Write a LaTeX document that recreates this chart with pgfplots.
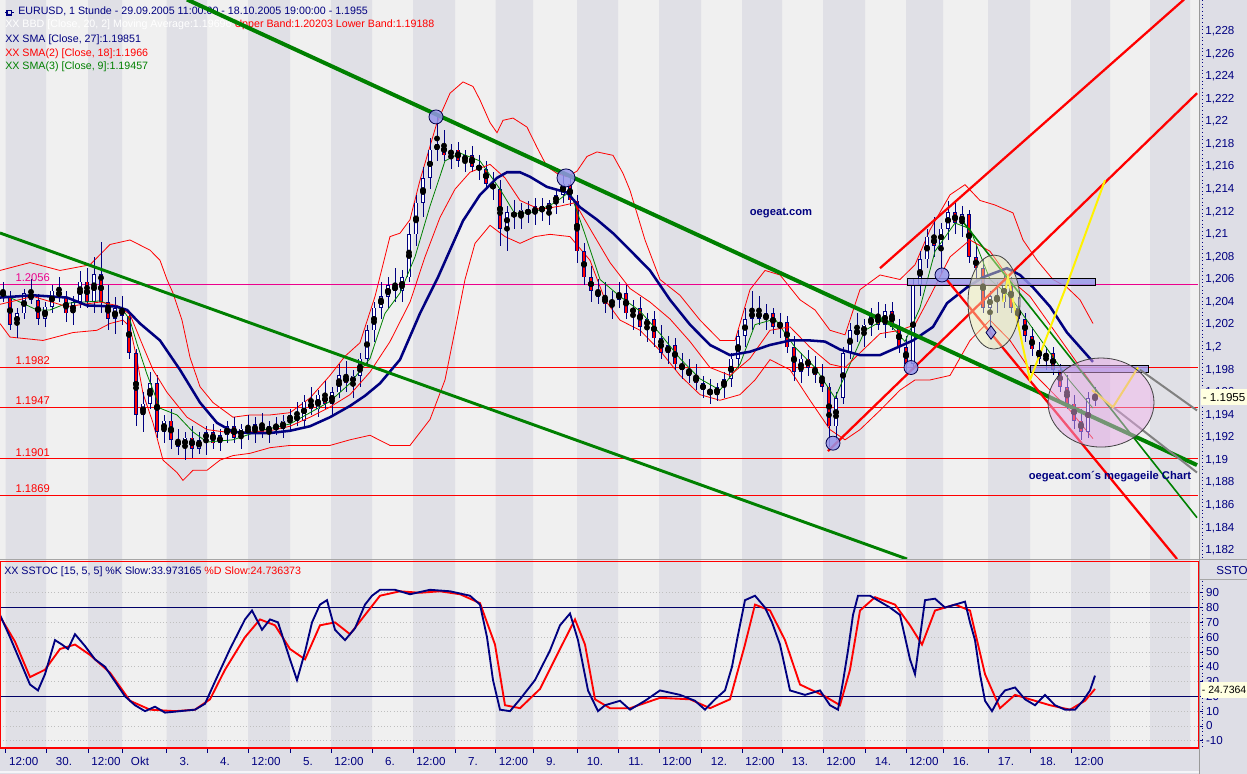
\documentclass[border=0pt]{standalone}
\usepackage{fontspec}
\setmainfont{Liberation Sans}
\usepackage{pgfplots}
\pgfplotsset{compat=1.18}
\usepackage{pgfplotstable}
\usepgfplotslibrary{fillbetween}

\definecolor{navy}{RGB}{0,0,128}
\definecolor{stripeD}{RGB}{224,224,230}
\definecolor{stripeL}{RGB}{240,240,240}
\definecolor{panelbg}{RGB}{222,222,230}
\definecolor{chgreen}{RGB}{0,128,0}
\definecolor{bandfill}{RGB}{252,252,242}
\definecolor{circblue}{RGB}{150,150,235}
\definecolor{tipbg}{RGB}{255,255,225}
\definecolor{yelell}{RGB}{240,240,180}
\definecolor{pinkell}{RGB}{230,170,230}

% hourly EURUSD, sampled every 2 bars: x (px position), open, high, low, close
\pgfplotstableread{
x o h l c
3 1.2050 1.2058 1.2040 1.2045
10 1.2045 1.2050 1.2015 1.2020
17 1.2020 1.2035 1.2008 1.2030
24 1.2030 1.2052 1.2025 1.2048
31 1.2048 1.2060 1.2038 1.2042
38 1.2042 1.2047 1.2020 1.2025
45 1.2025 1.2040 1.2018 1.2036
52 1.2036 1.2055 1.2030 1.2050
59 1.2050 1.2062 1.2040 1.2045
66 1.2045 1.2050 1.2022 1.2030
73 1.2030 1.2045 1.2020 1.2040
80 1.2040 1.2068 1.2035 1.2058
87 1.2058 1.2070 1.2035 1.2040
94 1.2040 1.2080 1.2030 1.2065
101 1.2065 1.2093 1.2030 1.2040
108 1.2040 1.2055 1.2015 1.2025
115 1.2025 1.2045 1.2012 1.2035
122 1.2035 1.2045 1.2020 1.2028
129 1.2028 1.2032 1.1990 1.1995
136 1.1995 1.1998 1.1930 1.1940
143 1.1940 1.1960 1.1925 1.1950
150 1.1950 1.1978 1.1945 1.1968
157 1.1968 1.1975 1.1920 1.1925
164 1.1925 1.1940 1.1915 1.1935
171 1.1935 1.1945 1.1910 1.1918
178 1.1918 1.1928 1.1905 1.1912
185 1.1912 1.1925 1.1900 1.1920
192 1.1920 1.1930 1.1902 1.1910
199 1.1910 1.1925 1.1905 1.1918
206 1.1918 1.1930 1.1905 1.1925
213 1.1925 1.1932 1.1910 1.1915
220 1.1915 1.1928 1.1908 1.1922
227 1.1922 1.1935 1.1915 1.1930
234 1.1930 1.1938 1.1915 1.1920
241 1.1920 1.1932 1.1910 1.1928
248 1.1928 1.1940 1.1918 1.1925
255 1.1925 1.1938 1.1915 1.1932
262 1.1932 1.1942 1.1920 1.1925
269 1.1925 1.1935 1.1915 1.1930
276 1.1930 1.1938 1.1922 1.1928
283 1.1928 1.1940 1.1920 1.1935
290 1.1935 1.1945 1.1925 1.1940
297 1.1940 1.1952 1.1930 1.1935
304 1.1935 1.1958 1.1930 1.1952
311 1.1952 1.1965 1.1940 1.1945
318 1.1945 1.1962 1.1938 1.1958
325 1.1958 1.1970 1.1945 1.1950
332 1.1950 1.1965 1.1940 1.1960
339 1.1960 1.1985 1.1955 1.1975
346 1.1975 1.1988 1.1960 1.1968
353 1.1968 1.1980 1.1955 1.1975
360 1.1975 1.1995 1.1965 1.1990
367 1.1990 1.2020 1.1985 1.2015
374 1.2015 1.2040 1.2005 1.2035
381 1.2035 1.2058 1.2025 1.2045
388 1.2045 1.2062 1.2035 1.2055
395 1.2055 1.2070 1.2040 1.2050
402 1.2050 1.2068 1.2040 1.2062
409 1.2062 1.2110 1.2058 1.2100
416 1.2100 1.2135 1.2090 1.2128
423 1.2128 1.2160 1.2115 1.2150
430 1.2150 1.2185 1.2140 1.2175
437 1.2175 1.2205 1.2165 1.2180
444 1.2180 1.2192 1.2165 1.2170
451 1.2170 1.2180 1.2158 1.2175
458 1.2175 1.2182 1.2160 1.2165
465 1.2165 1.2175 1.2155 1.2170
472 1.2170 1.2178 1.2155 1.2160
479 1.2160 1.2170 1.2148 1.2158
486 1.2158 1.2165 1.2140 1.2145
493 1.2145 1.2155 1.2130 1.2140
500 1.2140 1.2148 1.2090 1.2105
507 1.2105 1.2125 1.2085 1.2120
514 1.2120 1.2130 1.2105 1.2115
521 1.2115 1.2128 1.2105 1.2122
528 1.2122 1.2130 1.2110 1.2118
535 1.2118 1.2132 1.2108 1.2125
542 1.2125 1.2132 1.2112 1.2120
549 1.2120 1.2130 1.2108 1.2128
556 1.2128 1.2140 1.2118 1.2135
563 1.2135 1.2155 1.2128 1.2145
570 1.2145 1.2152 1.2125 1.2130
577 1.2130 1.2135 1.2075 1.2085
584 1.2085 1.2092 1.2055 1.2062
591 1.2062 1.2072 1.2040 1.2050
598 1.2050 1.2060 1.2038 1.2045
605 1.2045 1.2058 1.2030 1.2038
612 1.2038 1.2050 1.2025 1.2042
619 1.2042 1.2058 1.2035 1.2048
626 1.2048 1.2055 1.2025 1.2030
633 1.2030 1.2042 1.2015 1.2035
640 1.2035 1.2045 1.2010 1.2018
647 1.2018 1.2030 1.2005 1.2025
654 1.2025 1.2032 1.2000 1.2008
661 1.2008 1.2020 1.1990 1.1995
668 1.1995 1.2010 1.1985 1.2002
675 1.2002 1.2008 1.1980 1.1985
682 1.1985 1.1995 1.1972 1.1980
689 1.1980 1.1990 1.1968 1.1975
696 1.1975 1.1985 1.1962 1.1968
703 1.1968 1.1975 1.1955 1.1962
710 1.1962 1.1972 1.1950 1.1958
717 1.1958 1.1968 1.1952 1.1965
724 1.1965 1.1978 1.1955 1.1972
731 1.1972 1.1995 1.1965 1.1990
738 1.1990 1.2015 1.1982 1.2010
745 1.2010 1.2035 1.2000 1.2025
752 1.2025 1.2050 1.2015 1.2032
759 1.2032 1.2045 1.2020 1.2025
766 1.2025 1.2038 1.2015 1.2030
773 1.2030 1.2035 1.2012 1.2018
780 1.2018 1.2030 1.2008 1.2022
787 1.2022 1.2028 1.1995 1.2000
794 1.2000 1.2010 1.1970 1.1978
801 1.1978 1.1995 1.1968 1.1990
808 1.1990 1.1998 1.1975 1.1982
815 1.1982 1.1992 1.1968 1.1975
822 1.1975 1.1985 1.1960 1.1965
829 1.1965 1.1968 1.1912 1.1930
836 1.1930 1.1960 1.1918 1.1955
843 1.1955 1.2000 1.1950 1.1995
850 1.1995 1.2022 1.1990 1.2015
857 1.2015 1.2030 1.2005 1.2012
864 1.2012 1.2025 1.2000 1.2020
871 1.2020 1.2035 1.2010 1.2028
878 1.2028 1.2040 1.2015 1.2020
885 1.2020 1.2038 1.2008 1.2032
892 1.2032 1.2040 1.2015 1.2018
899 1.2018 1.2025 1.1995 1.2000
906 1.2000 1.2010 1.1978 1.1985
913 1.1985 1.2060 1.1980 1.2055
920 1.2055 1.2085 1.2045 1.2078
927 1.2078 1.2105 1.2070 1.2098
934 1.2098 1.2115 1.2080 1.2090
941 1.2090 1.2110 1.2065 1.2105
948 1.2105 1.2130 1.2095 1.2120
955 1.2120 1.2128 1.2100 1.2110
962 1.2110 1.2125 1.2098 1.2118
969 1.2118 1.2122 1.2075 1.2080
976 1.2080 1.2090 1.2060 1.2070
983 1.2070 1.2078 1.2030 1.2035
990 1.2035 1.2050 1.2012 1.2045
997 1.2045 1.2058 1.2030 1.2040
1004 1.2040 1.2065 1.2035 1.2060
1011 1.2060 1.2062 1.2030 1.2035
1018 1.2035 1.2045 1.2018 1.2025
1025 1.2025 1.2030 1.2005 1.2010
1032 1.2010 1.2018 1.1992 1.1998
1039 1.1998 1.2005 1.1985 1.1990
1046 1.1990 1.2000 1.1980 1.1995
1053 1.1995 1.2000 1.1975 1.1980
1060 1.1980 1.1985 1.1960 1.1965
1067 1.1965 1.1975 1.1945 1.1950
1074 1.1950 1.1958 1.1928 1.1935
1081 1.1935 1.1945 1.1918 1.1925
1088 1.1925 1.1960 1.1920 1.1955
1095 1.1955 1.1965 1.1948 1.1955
}\candles

% SMA 27 (navy)
\pgfplotstableread{
x p
0 1.2044
33 1.2046
67 1.2044
87 1.2037
117 1.2036
127 1.2033
140 1.2021
160 1.2006
180 1.1980
200 1.1951
217 1.1933
233 1.1925
250 1.1924
270 1.1924
290 1.1926
310 1.1930
330 1.1938
350 1.1948
365 1.1957
380 1.1968
400 1.1989
420 1.2030
438 1.2062
447 1.2080
463 1.2112
480 1.2135
497 1.2150
507 1.2155
520 1.2155
530 1.2151
547 1.2142
567 1.2137
580 1.2124
597 1.2113
613 1.2101
630 1.2086
650 1.2068
670 1.2042
690 1.2020
710 1.2002
730 1.1993
750 1.1996
770 1.2002
790 1.2006
810 1.2006
825 1.2005
840 1.1998
860 1.1993
880 1.1993
913 1.2006
933 1.2018
947 1.2039
967 1.2053
983 1.2062
1007 1.2070
1020 1.2064
1033 1.2053
1050 1.2036
1067 1.2013
1093 1.1987
}\smaA

% SMA 18 (red)
\pgfplotstableread{
x p
0 1.2038
33 1.2045
67 1.2036
100 1.2040
117 1.2037
130 1.2029
143 1.2001
153 1.1980
167 1.1960
187 1.1938
207 1.1927
233 1.1924
250 1.1925
270 1.1926
290 1.1930
310 1.1938
330 1.1947
350 1.1958
370 1.1978
390 1.2005
410 1.2040
425 1.2080
440 1.2115
455 1.2140
470 1.2155
490 1.2162
505 1.2150
520 1.2130
540 1.2122
560 1.2125
575 1.2128
590 1.2105
610 1.2075
630 1.2052
650 1.2040
670 1.2025
690 1.2005
710 1.1982
730 1.1975
750 1.1990
770 1.2015
790 1.2018
810 1.2000
830 1.1985
845 1.1982
860 1.1995
880 1.2012
900 1.2015
915 1.2020
930 1.2045
950 1.2080
970 1.2095
990 1.2085
1010 1.2060
1030 1.2045
1050 1.2020
1070 1.1995
1093 1.1966
}\smaB

% SMA 9 (green)
\pgfplotstableread{
x p
0 1.2048
20 1.2040
37 1.2033
50 1.2033
67 1.2039
100 1.2041
123 1.2033
130 1.2024
137 1.2003
147 1.1976
160 1.1946
177 1.1940
193 1.1925
207 1.1916
233 1.1918
260 1.1926
290 1.1932
310 1.1942
330 1.1952
350 1.1968
370 1.1990
385 1.2030
400 1.2048
415 1.2080
430 1.2125
445 1.2165
460 1.2172
480 1.2165
500 1.2140
515 1.2118
535 1.2120
555 1.2128
570 1.2138
585 1.2100
600 1.2060
620 1.2045
640 1.2032
660 1.2012
680 1.1990
700 1.1972
720 1.1962
740 1.1985
755 1.2020
775 1.2025
795 1.2000
815 1.1982
835 1.1955
850 1.1985
865 1.2015
885 1.2025
905 1.2005
920 1.2035
935 1.2085
955 1.2110
970 1.2105
990 1.2060
1010 1.2045
1030 1.2020
1050 1.1995
1070 1.1970
1093 1.1946
}\smaC

% Bollinger upper band
\pgfplotstableread{
x p
0 1.2068
30 1.2075
60 1.2068
90 1.2073
110 1.2091
130 1.2095
150 1.2086
160 1.2077
167 1.2060
173 1.2048
182 1.2024
190 1.1991
200 1.1965
213 1.1951
233 1.1938
250 1.1940
270 1.1940
290 1.1942
310 1.1955
330 1.1975
345 1.1992
360 1.2004
375 1.2045
390 1.2098
400 1.2101
410 1.2113
420 1.2148
437 1.2199
450 1.2225
463 1.2235
473 1.2231
480 1.2219
490 1.2199
497 1.2190
503 1.2201
513 1.2203
527 1.2195
537 1.2177
547 1.2160
557 1.2154
567 1.2151
577 1.2156
587 1.2169
597 1.2173
613 1.2170
623 1.2154
630 1.2139
645 1.2095
660 1.2060
680 1.2046
700 1.2024
720 1.2006
735 1.2006
750 1.2051
765 1.2068
780 1.2064
800 1.2042
815 1.2033
830 1.2015
845 1.2011
860 1.2051
880 1.2064
900 1.2060
915 1.2073
930 1.2104
950 1.2135
965 1.2144
980 1.2130
995 1.2126
1013 1.2119
1023 1.2095
1037 1.2077
1053 1.2060
1067 1.2053
1080 1.2042
1093 1.2021
}\bandU

% Bollinger lower band
\pgfplotstableread{
x p
0 1.2021
10 1.2009
43 1.2006
73 1.2013
97 1.2015
110 1.2021
123 1.2024
130 1.2018
137 1.1989
143 1.1959
153 1.1933
163 1.1900
177 1.1889
183 1.1882
193 1.1891
207 1.1891
220 1.1900
233 1.1904
250 1.1906
270 1.1911
290 1.1913
310 1.1913
330 1.1913
350 1.1918
370 1.1922
390 1.1913
410 1.1913
430 1.1936
445 1.1971
455 1.2015
465 1.2060
475 1.2092
490 1.2108
505 1.2098
520 1.2092
535 1.2098
550 1.2100
570 1.2098
590 1.2077
605 1.2042
620 1.2024
640 1.2015
660 1.1997
680 1.1975
700 1.1958
720 1.1953
740 1.1958
755 1.1971
770 1.1989
790 1.1980
810 1.1953
830 1.1927
845 1.1918
860 1.1927
880 1.1944
900 1.1962
915 1.1971
930 1.1971
950 1.1975
970 1.2006
990 1.2024
1010 1.2006
1030 1.1980
1050 1.1962
1070 1.1944
1093 1.1919
}\bandL

% Slow stochastic %K
\pgfplotstableread{
x v
0 75
10 60
20 44
30 28
38 24
45 35
55 58
62 55
68 52
75 62
85 54
95 45
105 40
115 30
125 20
135 14
145 10
155 13
165 9
180 10
195 11
205 15
215 30
230 52
245 72
252 78
262 65
270 72
278 70
290 45
297 31
305 50
312 70
320 82
327 85
335 65
345 58
355 66
365 82
372 88
380 92
395 92
410 89
430 92
450 91
470 88
480 82
487 60
493 31
500 11
510 10
520 18
535 31
550 51
560 68
570 76
578 58
588 24
598 10
605 14
620 17
630 11
645 17
660 24
680 21
695 17
705 11
715 18
725 24
732 40
737 58
745 85
755 88
765 80
772 70
780 55
790 24
805 21
820 24
830 14
838 11
843 30
848 51
853 75
858 88
870 88
880 84
890 80
900 75
905 60
910 45
915 35
920 60
925 85
935 86
945 80
955 82
965 84
970 70
975 58
980 35
985 17
992 10
1000 20
1005 24
1015 26
1025 18
1035 14
1045 21
1055 14
1065 11
1075 11
1083 17
1090 24
1095 34
}\stochK

% Slow stochastic %D
\pgfplotstableread{
x v
0 74
15 57
30 33
45 38
60 52
75 55
90 48
110 36
130 17
150 11
175 10
195 11
210 18
225 38
245 60
260 72
275 68
290 52
305 45
320 68
335 70
350 62
365 75
380 88
400 91
420 90
440 91
460 89
480 83
495 55
505 14
520 12
540 25
560 52
575 72
585 55
595 18
610 12
630 12
660 19
690 18
710 12
730 18
745 55
755 82
770 78
785 58
800 28
825 20
840 14
850 38
860 78
875 87
895 82
910 68
922 55
935 78
955 82
970 78
985 35
1000 12
1015 21
1030 18
1050 14
1070 11
1085 17
1095 25
}\stochD

\begin{document}
\begin{tikzpicture}[font=\fontsize{8}{9.6}\selectfont]
\begin{scope}[x=0.75pt,y=0.75pt]
\fill[panelbg] (0,0) rectangle (1247,774);
\fill[stripeL] (0,26) rectangle (1198.5,774);
\end{scope}

% day/half-day stripes
\begin{axis}[at={(0pt,580.5pt)}, anchor=north west, scale only axis,
  width=898.5pt, height=561pt, xmin=0, xmax=1198, ymin=0, ymax=1, hide axis]
\addplot[ybar interval, fill=stripeD, draw=none] coordinates {
 (5.7,1)(46,0)(88,1)(122,0)(166.5,1)(207,0)(248,1)(290,0)(331,1)(372,0)
 (413,1)(455,0)(495.5,1)(533,0)(577,1)(618,0)(659,1)(701,0)(742,1)(782,0)
 (823,1)(865,0)(906,1)(943,0)(988,1)(1030,0)(1071,1)(1110,0)(1150,1)(1190,0)(1198,0)};
\end{axis}

% header
\begin{scope}[x=0.75pt,y=0.75pt]
\draw[navy, line width=0.8pt] (7,759) rectangle (11.5,763.5);
\draw[navy, line width=0.8pt] (5,761.2) -- (7,761.2) (11.5,761.2) -- (13.5,761.2);
\node[anchor=base west, inner sep=0pt, text=navy] at (18,759) {EURUSD, 1 Stunde - 29.09.2005 11:00:00 - 18.10.2005 19:00:00 - 1.1955};
\node[anchor=base west, inner sep=0pt] at (5,746) {\textcolor{white}{XX BBD [Close, 20, 2] Moving Average:1.19696} \textcolor{red}{Upper Band:1.20203 Lower Band:1.19188}};
\node[anchor=base west, inner sep=0pt, text=navy] at (5,731) {XX SMA [Close, 27]:1.19851};
\node[anchor=base west, inner sep=0pt, text=red] at (5,717.3) {XX SMA(2) [Close, 18]:1.1966};
\node[anchor=base west, inner sep=0pt, text=chgreen] at (5,704.3) {XX SMA(3) [Close, 9]:1.19457};
\node[anchor=base west, inner sep=0pt] at (4,199) {\textcolor{navy}{XX SSTOC [15, 5, 5] \%K Slow:33.973165} \textcolor{red}{\%D Slow:24.736373}};
\end{scope}

% price panel
\begin{axis}[at={(0pt,580.5pt)}, anchor=north west, scale only axis,
  width=898.5pt, height=419.25pt,
  xmin=0, xmax=1198, ymin=1.18124, ymax=1.23076,
  axis x line=none, axis y line*=right, y axis line style={draw=none},
  xtick=\empty,
  ytick={1.182,1.184,1.186,1.188,1.19,1.192,1.194,1.196,1.198,1.2,1.202,1.204,1.206,1.208,1.21,1.212,1.214,1.216,1.218,1.22,1.222,1.224,1.226,1.228},
  tick align=outside, major tick length=3pt,
  y tick style={navy, line width=0.6pt},
  ymajorgrids, grid style={dotted, line width=0.6pt, color=black!25},
  yticklabel style={text=navy, font=\fontsize{8.7}{10}\selectfont, xshift=-1pt},
  /pgf/number format/fixed, /pgf/number format/precision=3,
  /pgf/number format/use comma, /pgf/number format/assume math mode=true]

\addplot[draw=none, name path=ub, forget plot] table[x=x,y=p] \bandU;
\addplot[draw=none, name path=lb, forget plot] table[x=x,y=p] \bandL;
\addplot[fill=bandfill, fill opacity=0.75, draw=none] fill between[of=ub and lb];
\addplot[red, line width=0.6pt] table[x=x,y=p] \bandU;
\addplot[red, line width=0.6pt] table[x=x,y=p] \bandL;

% support / resistance levels
\addplot[magenta, line width=0.75pt] coordinates {(0,1.2056)(1198,1.2056)};
\addplot[red, line width=0.75pt] coordinates {(0,1.1982)(1198,1.1982)};
\addplot[red, line width=0.75pt] coordinates {(0,1.1947)(1198,1.1947)};
\addplot[red, line width=0.75pt] coordinates {(0,1.1901)(1198,1.1901)};
\addplot[red, line width=0.75pt] coordinates {(0,1.1869)(1198,1.1869)};

% candles: wicks, bodies, red fill for falling bars
\addplot[only marks, mark=none, error bars/.cd, y dir=both, y explicit, error mark=none,
  error bar style={solid, navy, line width=0.75pt}]
  table[x=x, y expr={(\thisrow{h}+\thisrow{l})/2}, y error expr={(\thisrow{h}-\thisrow{l})/2}] \candles;
\addplot[only marks, mark=none, error bars/.cd, y dir=both, y explicit, error mark=none,
  error bar style={solid, navy, line width=2.8pt, line cap=butt}]
  table[x=x, y expr={(\thisrow{o}+\thisrow{c})/2}, y error expr={abs(\thisrow{o}-\thisrow{c})/2}] \candles;
\addplot[only marks, mark=none, error bars/.cd, y dir=both, y explicit, error mark=none,
  error bar style={solid, white, line width=1.4pt, line cap=butt}]
  table[x=x, y expr={(\thisrow{o}+\thisrow{c})/2}, y error expr={abs(\thisrow{o}-\thisrow{c})/2-0.00006}] \candles;
\addplot[only marks, mark=none, restrict expr to domain={\thisrow{o}-\thisrow{c}}{0.00001:1},
  error bars/.cd, y dir=both, y explicit, error mark=none,
  error bar style={solid, red, line width=1.4pt, line cap=butt}]
  table[x=x, y expr={(\thisrow{o}+\thisrow{c})/2}, y error expr={abs(\thisrow{o}-\thisrow{c})/2-0.00006}] \candles;

% moving averages
\addplot[chgreen, line width=0.6pt] table[x=x,y=p] \smaC;
\addplot[red, line width=0.6pt] table[x=x,y=p] \smaB;
\addplot[navy, line width=1.9pt] table[x=x,y=p] \smaA;

% drawn objects
\addplot[only marks, mark=*, mark size=35.25pt,
  mark options={xscale=0.553, fill=yelell, fill opacity=0.45, draw=black!75, line width=0.6pt}]
  coordinates {(994,1.2040)};
\addplot[only marks, mark=*, mark size=33.4pt,
  mark options={xscale=1.19, fill=pinkell, fill opacity=0.5, draw=black!75, line width=0.6pt}]
  coordinates {(1101,1.1951)};
\addplot[fill=circblue, fill opacity=0.8, draw=black, line width=0.6pt]
  coordinates {(907,1.2061)(1095,1.2061)(1095,1.2055)(907,1.2055)} -- cycle;
\addplot[fill=circblue, fill opacity=0.8, draw=black, line width=0.6pt]
  coordinates {(1030,1.1984)(1148,1.1984)(1148,1.1978)(1030,1.1978)} -- cycle;

\addplot[chgreen, line width=3pt] coordinates {(187,1.2308)(1197,1.18956)};
\addplot[chgreen, line width=2.2pt] coordinates {(0,1.21012)(907,1.18124)};
\addplot[red, line width=1.7pt] coordinates {(880,1.2070)(1184,1.2308)};
\addplot[red, line width=1.7pt] coordinates {(828,1.1908)(1197,1.2225)};
\addplot[red, line width=1.7pt] coordinates {(947,1.20595)(1177,1.18124)};
\addplot[chgreen, line width=1.2pt] coordinates {(963,1.2111)(1197,1.1849)};
\addplot[gray, line width=1.5pt] coordinates {(1140,1.1980)(1197,1.1944)};
\addplot[gray, line width=1.5pt] coordinates {(1113,1.1947)(1197,1.1889)};
\addplot[yellow, line width=1.5pt] coordinates {(1003,1.2040)(1008,1.2062)(1030,1.1971)(1068,1.2058)(1105,1.2148)};
\addplot[yellow, line width=1.5pt] coordinates {(1092,1.1962)(1113,1.1947)(1138,1.1982)};

\addplot[only marks, mark=*, mark size=5.25pt,
  mark options={fill=circblue, draw=navy!60!black, line width=0.6pt, fill opacity=0.85}]
  coordinates {(436,1.2204)(833,1.1915)(911,1.1982)(942,1.2064)};
\addplot[only marks, mark=*, mark size=6.75pt,
  mark options={fill=circblue, draw=navy!60!black, line width=0.6pt, fill opacity=0.85}]
  coordinates {(566,1.2150)};
\addplot[only marks, mark=diamond*, mark size=5pt,
  mark options={fill=circblue, draw=navy!60!black, line width=0.6pt, fill opacity=0.85}]
  coordinates {(991,1.2013)};

\node[anchor=south west, inner sep=1pt, text=magenta, font=\fontsize{8.4}{10}\selectfont] at (axis cs:14,1.2057) {1.2056};
\node[anchor=south west, inner sep=1pt, text=red, font=\fontsize{8.4}{10}\selectfont] at (axis cs:14,1.1983) {1.1982};
\node[anchor=south west, inner sep=1pt, text=red, font=\fontsize{8.4}{10}\selectfont] at (axis cs:14,1.1948) {1.1947};
\node[anchor=south west, inner sep=1pt, text=red, font=\fontsize{8.4}{10}\selectfont] at (axis cs:14,1.1902) {1.1901};
\node[anchor=south west, inner sep=1pt, text=red, font=\fontsize{8.4}{10}\selectfont] at (axis cs:14,1.1870) {1.1869};
\node[text=navy, font=\fontsize{8.4}{10}\selectfont\bfseries] at (axis cs:781,1.2119) {oegeat.com};
\node[text=navy, font=\fontsize{8.4}{10}\selectfont\bfseries] at (axis cs:1110,1.1885) {oegeat.com´s megageile Chart};
\end{axis}

% stochastic panel
\begin{axis}[at={(0pt,159pt)}, anchor=north west, scale only axis,
  width=898.5pt, height=139.5pt,
  xmin=0, xmax=1198, ymin=-14.9, ymax=110.8,
  axis x line*=bottom, axis y line*=right,
  x axis line style={draw=none}, y axis line style={draw=none},
  xtick={5.7,46,88,122,166.5,207,248,290,331,372,413,455,495.5,533,577,618,659,701,742,782,823,865,906,943,988,1030,1071},
  xticklabels={12:00,30.,12:00,Okt,3.,4.,12:00,5.,12:00,6.,12:00,7.,12:00,9.,10.,11.,12:00,12.,12:00,13.,12:00,14.,12:00,16.,17.,18.,12:00},
  ytick={-10,0,10,20,30,40,50,60,70,80,90},
  tick align=outside, major tick length=3.5pt,
  tick style={navy, line width=0.6pt},
  xticklabel style={text=navy, xshift=13.5pt, font=\fontsize{8.7}{10}\selectfont},
  yticklabel style={text=navy, font=\fontsize{8.7}{10}\selectfont, xshift=-1pt},
  ymajorgrids, grid style={dotted, line width=0.6pt, color=black!25},
  /pgf/number format/assume math mode=true]
\addplot[navy!80!black, line width=0.75pt] coordinates {(0,80)(1198,80)};
\addplot[navy!80!black, line width=0.75pt] coordinates {(0,20)(1198,20)};
\addplot[red, line width=1.4pt] table[x=x,y=v] \stochD;
\addplot[navy, line width=1.4pt] table[x=x,y=v] \stochK;
\end{axis}

% frame and right scale furniture
\begin{scope}[x=0.75pt,y=0.75pt]
\draw[red, line width=0.9pt] (0.5,26) rectangle (1198.5,212.5);
\draw[black!35, line width=0.75pt] (0,214.5) -- (1247,214.5);
\draw[black!40, line width=0.75pt] (1199.5,0) -- (1199.5,774);
\draw[navy, dotted, line width=0.75pt] (1202,774) -- (1202,216);
\draw[navy, dotted, line width=0.75pt] (1202,193) -- (1202,26);
\draw[black!35, line width=0.6pt] (1200,194.5) -- (1247,194.5);
\node[anchor=west, inner sep=0pt, text=navy, font=\fontsize{8.7}{10}\selectfont] at (1216,203) {SSTO};
\node[anchor=west, fill=tipbg, text=black, inner xsep=1pt, inner ysep=0pt,
  minimum height=12pt, minimum width=35pt, font=\fontsize{8.7}{10}\selectfont] at (1200.5,376.5) {\mbox{- 1.1955}};
\node[anchor=west, fill=tipbg, text=black, inner xsep=0.6pt, inner ysep=0pt,
  minimum height=12pt, minimum width=35pt, font=\fontsize{7.9}{10}\selectfont] at (1200.5,84) {\mbox{- 24.7364}};
\draw[white!70!panelbg, line width=1.5pt] (0,2) -- (1199,2);
\pgfresetboundingbox
\path (0,0) rectangle (1247,774);
\end{scope}
\end{tikzpicture}
\end{document}
